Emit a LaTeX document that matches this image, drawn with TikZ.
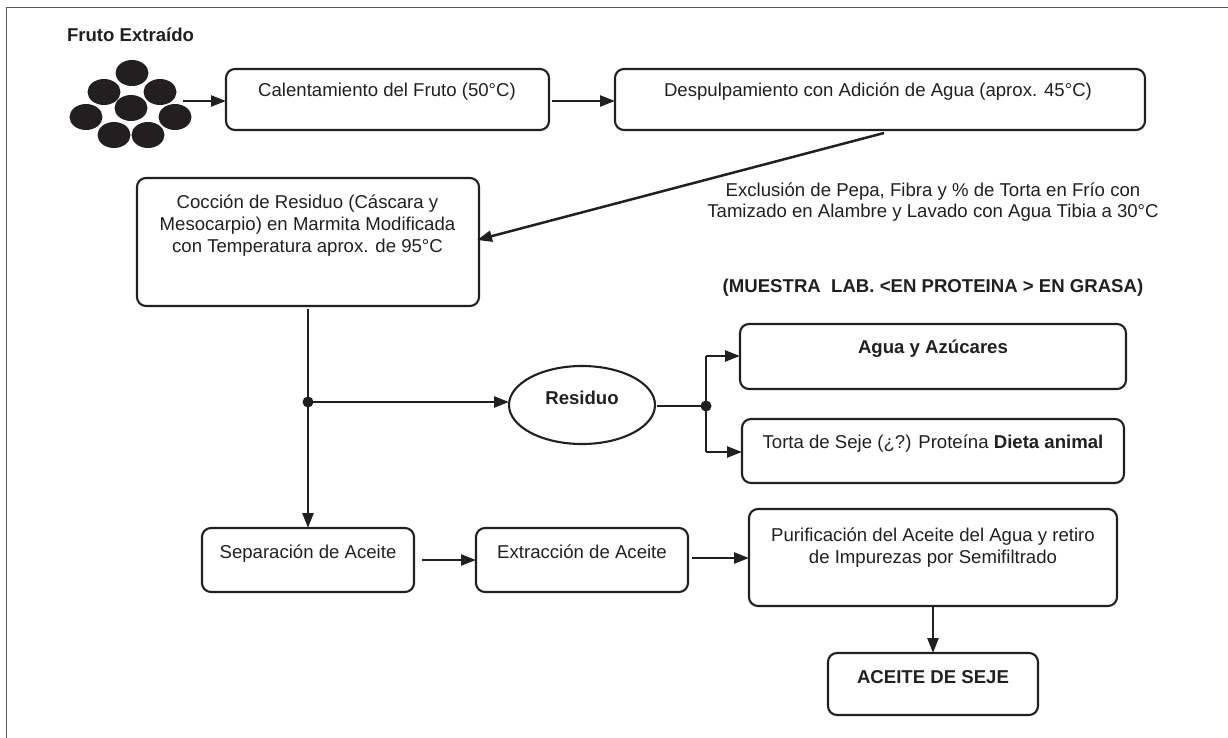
\documentclass[tikz,border=0pt]{standalone}
\usepackage{fontspec}
\setmainfont{Liberation Sans}
\usetikzlibrary{arrows.meta,shapes.geometric}
\definecolor{ink}{HTML}{231F20}
\tikzset{
  x=1pt,y=-1pt,
  every node/.style={text=ink,font=\fontsize{18.6}{21.7}\selectfont,inner sep=0pt,outer sep=0pt},
  pbox/.style={draw=ink,line width=2.1pt,rounded corners=9pt,minimum width=#1},
  conn/.style={draw=ink,line width=2.5pt},
  arr/.style={conn,-{Triangle[length=15pt,width=11pt]}},
  fruit/.style={fill=ink,ellipse,minimum width=33pt,minimum height=26pt},
  junction/.style={fill=ink,circle,minimum size=11pt},
  lbl/.style={align=center,anchor=base},
  blbl/.style={lbl,font=\fontsize{18.6}{22}\selectfont\bfseries}
}
\begin{document}
\begin{tikzpicture}
\useasboundingbox (0,0) rectangle (1228,738);
\coordinate (f1) at (6,738);\coordinate (f2) at (6,8);\coordinate (f3) at (1228,8);
\draw[draw=ink!75,line width=1pt] (f1)--(f2)--(f3);
\node[blbl,anchor=base west] (title) at (67,42) {Fruto Extraído};
\node[fruit] (b1) at (132,73) {};
\node[fruit] (b2) at (104,92) {};
\node[fruit] (b3) at (160,92) {};
\node[fruit] (b4) at (131,108) {};
\node[fruit] (b5) at (86,117) {};
\node[fruit] (b6) at (175,117) {};
\node[fruit] (b7) at (114,135) {};
\node[fruit] (b8) at (148,135) {};
\coordinate (fa) at (183,101);

\node[pbox=323pt,minimum height=61pt] (A) at (387.5,99.5) {};
\node[lbl] (At) at (387,97) {Calentamiento del Fruto (50°C)};
\node[pbox=530pt,minimum height=61pt] (B) at (880,99.5) {};
\node[lbl] (Bt) at (878,97) {Despulpamiento con Adición de Agua (aprox. 45°C)};
\node[pbox=342pt,minimum height=128pt] (C) at (308,242) {};
\node[lbl] (Ct) at (307.5,252) {Cocción de Residuo (Cáscara y\\Mesocarpio) en Marmita Modificada\\con Temperatura aprox. de 95°C};
\node[lbl] (N1) at (933,218) {Exclusión de Pepa, Fibra y \% de Torta en Frío con\\Tamizado en Alambre y Lavado con Agua Tibia a 30°C};
\node[blbl] (N2) at (933,292) {(MUESTRA\ \ LAB. <EN PROTEINA > EN GRASA)};
\node[pbox=386pt,minimum height=65pt] (D) at (933,356.5) {};
\node[blbl] (Dt) at (933,353) {Agua y Azúcares};
\node[pbox=382pt,minimum height=64pt] (E) at (933,451) {};
\node[lbl] (Et) at (933,448) {Torta de Seje (¿?) Proteína \textbf{Dieta animal}};
\node[draw=ink,line width=2.1pt,ellipse,minimum width=146pt,minimum height=78pt] (R) at (582,405) {};
\node[blbl] (Rt) at (582,404) {Residuo};
\node[junction] (J1) at (308,402) {};
\node[junction] (J2) at (706,406) {};
\node[pbox=212pt,minimum height=64pt] (F) at (308,560) {};
\node[lbl] (Ft) at (308,558) {Separación de Aceite};
\node[pbox=212pt,minimum height=64pt] (G) at (582,560) {};
\node[lbl] (Gt) at (582,558) {Extracción de Aceite};
\node[pbox=368pt,minimum height=97pt] (H) at (933,557.5) {};
\node[lbl] (Ht) at (933,563) {Purificación del Aceite del Agua y retiro\\de Impurezas por Semifiltrado};
\node[pbox=210pt,minimum height=62pt] (I) at (933,684) {};
\node[blbl] (It) at (933,683) {ACEITE DE SEJE};

\coordinate (Bs) at (884,133);
\coordinate (Ce) at (477,240);
\coordinate (Cs) at (308,309);
\coordinate (As) at (552,101);
\coordinate (Fe) at (422,560);
\coordinate (Ge) at (692,558);
\coordinate (Re) at (657,406);
\coordinate (jt) at (706,356);
\coordinate (jb) at (706,452);
\draw[arr] (fa)--(A.west|-fa);
\draw[arr] (As)--(B.west|-As);
\draw[arr] (Bs)--(Ce);
\draw[arr] (Cs)--(F.north);
\draw[arr] (J1.center)--(R.west|-J1);
\draw[conn] (Re)--(J2.center);
\draw[conn] (jt)--(jb);
\draw[arr] (jt)--(D.west|-jt);
\draw[arr] (jb)--(E.west|-jb);
\draw[arr] (Fe)--(G.west|-Fe);
\draw[arr] (Ge)--(H.west|-Ge);
\draw[arr] (H.south)--(I.north);
\end{tikzpicture}
\end{document}
